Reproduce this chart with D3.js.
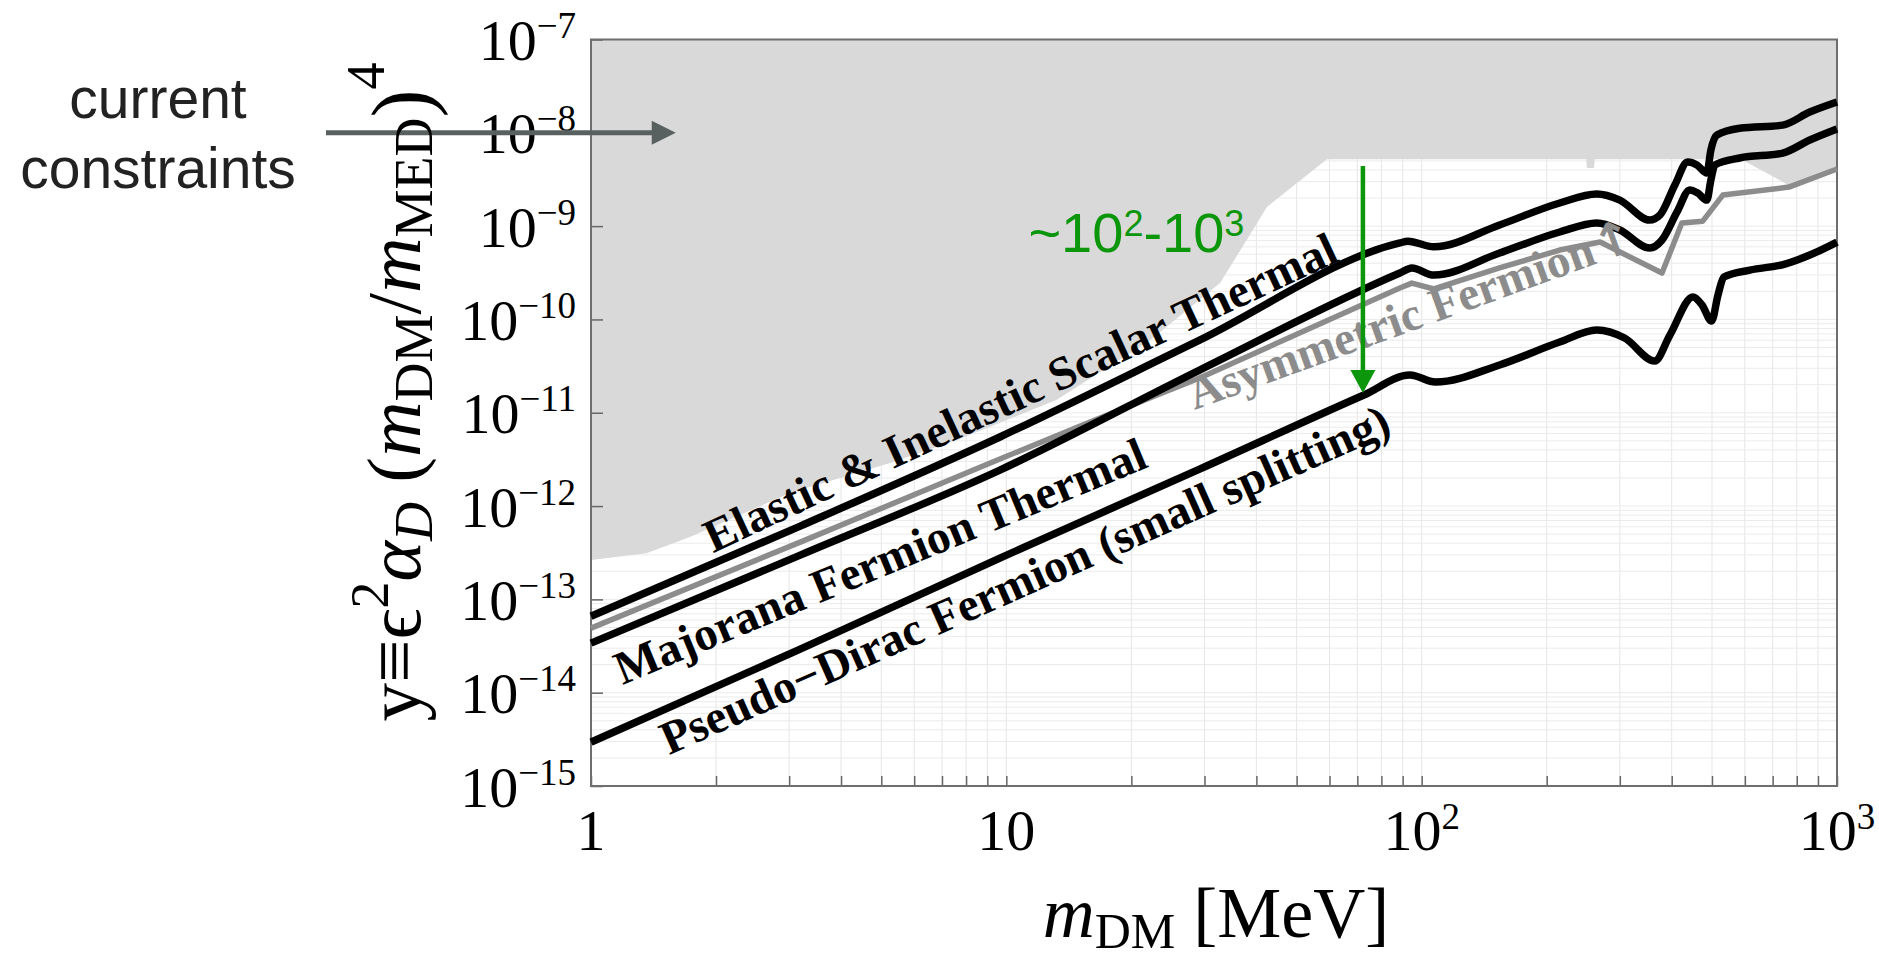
<!DOCTYPE html>
<html>
<head>
<meta charset="utf-8">
<script src="https://cdn.jsdelivr.net/npm/d3@7"></script>
<style>
  body { margin: 0; background: #fff; }
  svg { display: block; }
  .serif { font-family: "Liberation Serif", "Times New Roman", serif; }
  .sans { font-family: "Liberation Sans", Arial, sans-serif; }
</style>
</head>
<body>
<div id="chart"></div>
<script>
// values: m_DM in MeV, y = eps^2 alpha_D (m_DM/m_MED)^4
const scalarM = [1, 3.19, 9.65, 29.2, 88.6, 92.6, 107, 154, 215, 264, 300, 354, 375, 407, 437, 460, 486, 497, 514, 583, 740, 860, 1000];
const scalarY = [6.6e-14, 6.1e-13, 5.5e-12, 6.0e-11, 6.6e-10, 6.9e-10, 6.0e-10, 1.03e-9, 1.77e-9, 2.21e-9, 1.90e-9, 1.16e-9, 1.32e-9, 2.76e-9, 4.86e-9, 4.52e-9, 3.71e-9, 6.54e-9, 9.47e-9, 1.12e-8, 1.21e-8, 1.67e-8, 2.14e-8];

const majoranaM = [1, 3.19, 9.65, 29.2, 88.6, 94.7, 107, 154, 215, 264, 300, 354, 379, 412, 442, 462, 486, 497, 508, 583, 740, 860, 1000];
const majoranaY = [3.40e-14, 2.98e-13, 2.43e-12, 2.87e-11, 3.14e-10, 3.56e-10, 2.99e-10, 5.15e-10, 8.65e-10, 1.08e-9, 9.08e-10, 5.82e-10, 7.10e-10, 1.42e-9, 2.44e-9, 2.26e-9, 1.90e-9, 3.12e-9, 4.52e-9, 5.37e-9, 6.07e-9, 8.37e-9, 1.10e-8];

const asymM = [1, 3.19, 9.65, 15.9, 29.2, 88.6, 94.7, 107, 154, 215, 269, 379, 423, 475, 531, 766, 1000];
const asymY = [4.92e-14, 4.11e-13, 3.19e-12, 7.95e-12, 2.36e-11, 2.17e-10, 2.45e-10, 2.12e-10, 3.56e-10, 5.54e-10, 6.75e-10, 3.14e-10, 1.08e-9, 1.13e-9, 2.15e-9, 2.62e-9, 4.09e-9];

const pseudoM = [1, 3.19, 9.65, 29.2, 72.6, 93.7, 108, 154, 215, 264, 308, 364, 396, 450, 473, 499, 517, 534, 617, 749, 860, 1000];
const pseudoY = [2.95e-15, 2.93e-14, 2.77e-13, 2.49e-12, 1.55e-11, 2.54e-11, 2.13e-11, 3.25e-11, 5.72e-11, 7.70e-11, 6.32e-11, 3.58e-11, 6.80e-11, 1.74e-10, 1.43e-10, 9.62e-11, 1.83e-10, 2.85e-10, 3.38e-10, 3.92e-10, 4.90e-10, 6.75e-10];

// lower edge of the grey "current constraints" region
const boundM = [1, 1.36, 1.73, 3.01, 5.25, 7.6, 13.2, 22.2, 32.7, 37.9, 42.4, 59.1, 249, 250, 260, 261, 587, 766, 1000];
const boundY = [2.64e-13, 3.13e-13, 4.65e-13, 1.38e-12, 2.89e-12, 5.10e-12, 1.37e-11, 6.0e-11, 2.45e-10, 7.1e-10, 1.6e-9, 5.2e-9, 5.2e-9, 4.2e-9, 4.2e-9, 5.2e-9, 5.2e-9, 2.75e-9, 4.2e-9];

const yTickExp = [-7, -8, -9, -10, -11, -12, -13, -14, -15];
const xTickLabels = [{v: 1, base: "1", sup: ""}, {v: 10, base: "10", sup: ""}, {v: 100, base: "10", sup: "2"}, {v: 1000, base: "10", sup: "3"}];

// curve labels: text and where along the curve they start (m, y)
const curveLabels = [
  {text: "Elastic & Inelastic Scalar Thermal", m: 1.967, y: 3.13e-13, angle: -25, fill: "#000"},
  {text: "Majorana Fermion Thermal", m: 1.19, y: 1.21e-14, angle: -22.5, fill: "#000"},
  {text: "Pseudo\u2212Dirac Fermion (small splitting)", m: 1.54, y: 2.14e-15, angle: -24, fill: "#000"},
  {text: "Asymmetric Fermion", m: 28.4, y: 1.07e-11, angle: -20, fill: "#8c8c8c", arrow: true}
];

const greenArrow = {m: 72.2, from: 4.4e-9, to: 1.63e-11};
const greenText = {m: 11.3, y: 5.3e-10};
const constraintArrow = {mEnd: 1.6, y: 1e-8};

const W = 1879, H = 958;
const margin = {top: 39.5, right: 42, bottom: 172, left: 591};
const width = W - margin.left - margin.right,
      height = H - margin.top - margin.bottom;

const svg = d3.select("#chart")
  .append("svg")
    .attr("width", W)
    .attr("height", H);

const g = svg.append("g")
  .attr("transform", `translate(${margin.left},${margin.top})`);

const x = d3.scaleLog().domain([1, 1000]).range([0, width]);
const y = d3.scaleLog().domain([1e-15, 1e-7]).range([height, 0]);

const zip = (ms, ys) => ms.map((m, i) => ({m: m, v: ys[i]}));

// faint grid
g.append("g")
  .selectAll("line")
  .data(x.ticks())
  .join("line")
    .attr("x1", d => x(d)).attr("x2", d => x(d))
    .attr("y1", 0).attr("y2", height)
    .attr("stroke", "#e6e6e6").attr("stroke-width", 1);
g.append("g")
  .selectAll("line")
  .data(y.ticks())
  .join("line")
    .attr("x1", 0).attr("x2", width)
    .attr("y1", d => y(d)).attr("y2", d => y(d))
    .attr("stroke", "#ebebeb").attr("stroke-width", 1);

// constraints region
const area = d3.area()
  .x(d => x(d.m))
  .y0(0)
  .y1(d => y(d.v));
g.append("path")
  .datum(zip(boundM, boundY))
  .attr("d", area)
  .attr("fill", "#d9d9d9");

// axes
const yAxis = g.append("g")
  .call(d3.axisLeft(y).tickValues(yTickExp.map(e => Math.pow(10, e))).tickSize(-12).tickFormat(""));
yAxis.select(".domain").remove();
yAxis.selectAll(".tick line").attr("stroke", "#666").attr("stroke-width", 1.5);
yAxis.selectAll(".tick")
  .append("text")
    .attr("class", "serif")
    .attr("x", -15)
    .attr("y", 20)
    .attr("text-anchor", "end")
    .attr("fill", "#000")
    .attr("font-size", 58)
    .each(function(d) {
      const t = d3.select(this);
      t.append("tspan").text("10");
      t.append("tspan").attr("font-size", 37).attr("dy", -22)
        .text("\u2212" + Math.round(-Math.log10(d)));
    });

const xAxis = g.append("g")
  .attr("transform", `translate(0,${height})`)
  .call(d3.axisBottom(x).tickValues(x.ticks()).tickSize(-10).tickFormat(""));
xAxis.select(".domain").remove();
xAxis.selectAll(".tick line").attr("stroke", "#666").attr("stroke-width", 1.5);
xAxis.selectAll(".lbl")
  .data(xTickLabels)
  .join("text")
    .attr("class", "serif")
    .attr("x", d => x(d.v))
    .attr("y", 64)
    .attr("text-anchor", "middle")
    .attr("font-size", 58)
    .attr("fill", "#000")
    .each(function(d) {
      const t = d3.select(this);
      t.append("tspan").text(d.base);
      if (d.sup) t.append("tspan").attr("font-size", 37).attr("dy", -21).text(d.sup);
    });

// frame
g.append("rect")
  .attr("width", width).attr("height", height)
  .attr("fill", "none").attr("stroke", "#6e6e6e").attr("stroke-width", 2);

// curves
const smooth = d3.line().x(d => x(d.m)).y(d => y(d.v)).curve(d3.curveMonotoneX);
const straight = d3.line().x(d => x(d.m)).y(d => y(d.v));

g.append("path")
  .datum(zip(asymM, asymY))
  .attr("d", straight)
  .attr("fill", "none").attr("stroke", "#8c8c8c").attr("stroke-width", 5.5)
  .attr("stroke-linejoin", "round");

[[pseudoM, pseudoY], [majoranaM, majoranaY], [scalarM, scalarY]].forEach(([ms, ys]) => {
  g.append("path")
    .datum(zip(ms, ys))
    .attr("d", smooth)
    .attr("fill", "none").attr("stroke", "#000").attr("stroke-width", 7.5)
    .attr("stroke-linejoin", "round");
});

// curve labels
curveLabels.forEach(l => {
  const t = g.append("text")
    .attr("class", "serif")
    .attr("transform", `translate(${x(l.m)},${y(l.y)}) rotate(${l.angle})`)
    .attr("font-size", 47)
    .attr("font-weight", "bold")
    .attr("fill", l.fill)
    .text(l.text);
  if (l.arrow) {
    t.append("tspan")
      .attr("font-family", "'DejaVu Sans', sans-serif")
      .attr("font-weight", "bold")
      .attr("font-size", 48)
      .attr("dx", 2)
      .text("\u2191");
  }
});

// green arrow "~10^2-10^3"
const gx = x(greenArrow.m);
g.append("line")
  .attr("x1", gx).attr("x2", gx)
  .attr("y1", y(greenArrow.from)).attr("y2", y(greenArrow.to) - 20)
  .attr("stroke", "#0b960b").attr("stroke-width", 4.5);
g.append("path")
  .attr("d", `M${gx - 12.5},${y(greenArrow.to) - 23} L${gx + 12.5},${y(greenArrow.to) - 23} L${gx},${y(greenArrow.to)} Z`)
  .attr("fill", "#0b960b");
const gt = g.append("text")
  .attr("class", "sans")
  .attr("x", x(greenText.m))
  .attr("y", y(greenText.y))
  .attr("font-size", 56)
  .attr("fill", "#0b960b");
gt.append("tspan").text("~10");
gt.append("tspan").attr("font-size", 36).attr("dy", -16).text("2");
gt.append("tspan").attr("dy", 16).text("-10");
gt.append("tspan").attr("font-size", 36).attr("dy", -16).text("3");

// "current constraints" arrow
const ay = y(constraintArrow.y);
const ax1 = x(constraintArrow.mEnd);
g.append("line")
  .attr("x1", -265).attr("x2", ax1 - 20)
  .attr("y1", ay).attr("y2", ay)
  .attr("stroke", "#596060").attr("stroke-width", 5);
g.append("path")
  .attr("d", `M${ax1 - 24},${ay - 12} L${ax1},${ay} L${ax1 - 24},${ay + 12} Z`)
  .attr("fill", "#596060");

svg.append("text")
  .attr("class", "sans")
  .attr("x", 158)
  .attr("text-anchor", "middle")
  .attr("font-size", 57)
  .attr("fill", "#222")
  .selectAll("tspan")
  .data(["current", "constraints"])
  .join("tspan")
    .attr("x", 158)
    .attr("y", (d, i) => 118 + i * 70)
    .text(d => d);

// axis titles
const yl = svg.append("text")
  .attr("class", "serif")
  .attr("transform", "translate(420,392) rotate(-90)")
  .attr("text-anchor", "middle")
  .attr("font-size", 77)
  .attr("fill", "#000");
yl.append("tspan").text("y\u2261\u03f5");
yl.append("tspan").attr("font-size", 54).attr("dy", -32).text("2");
yl.append("tspan").attr("font-style", "italic").attr("dy", 32).text("\u03b1");
yl.append("tspan").attr("font-style", "italic").attr("font-size", 54).attr("dy", 12).text("D");
yl.append("tspan").attr("dy", -12).text(" (");
yl.append("tspan").attr("font-style", "italic").text("m");
yl.append("tspan").attr("font-size", 54).attr("dy", 12).text("DM");
yl.append("tspan").attr("dy", -12).text("/");
yl.append("tspan").attr("font-style", "italic").text("m");
yl.append("tspan").attr("font-size", 54).attr("dy", 12).text("MED");
yl.append("tspan").attr("font-size", 84).attr("dy", -2).text(")");
yl.append("tspan").attr("font-size", 54).attr("dy", -46).text("4");

const xl = svg.append("text")
  .attr("class", "serif")
  .attr("x", 1216)
  .attr("y", 937)
  .attr("text-anchor", "middle")
  .attr("font-size", 72)
  .attr("fill", "#000");
xl.append("tspan").attr("font-style", "italic").text("m");
xl.append("tspan").attr("font-size", 50).attr("dy", 11).text("DM");
xl.append("tspan").attr("dy", -11).text(" [MeV]");
</script>
</body>
</html>
